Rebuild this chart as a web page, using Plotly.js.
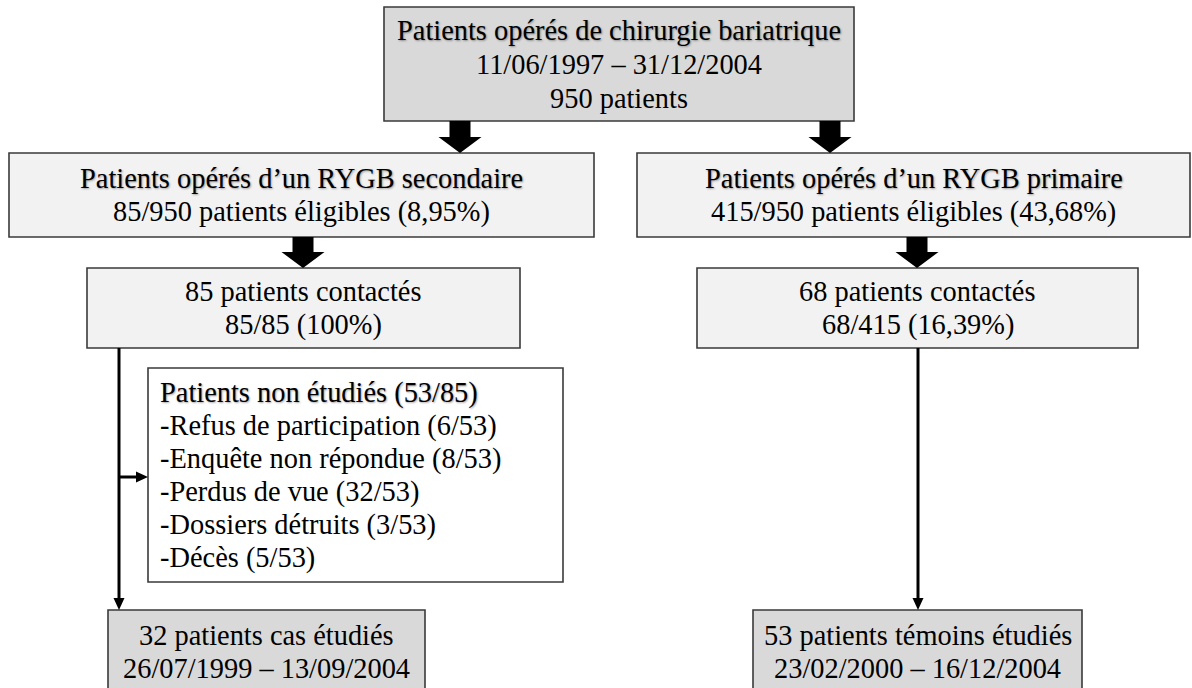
<!DOCTYPE html>
<html>
<head>
<meta charset="utf-8">
<script src="https://cdn.plot.ly/plotly-3.0.1.min.js"></script>
<style>html,body{margin:0;padding:0;background:#fff;}#chart{width:1192px;height:688px;}</style>
</head>
<body>
<div id="chart"></div>
<script>
// ---- data (texts of the flowchart) ----
const topLines = ["Patients opérés de chirurgie bariatrique", "11/06/1997 – 31/12/2004", "950 patients"];
const secondaryLines = ["Patients opérés d’un RYGB secondaire", "85/950 patients éligibles (8,95%)"];
const primaryLines = ["Patients opérés d’un RYGB primaire", "415/950 patients éligibles (43,68%)"];
const contactSecLines = ["85 patients contactés", "85/85 (100%)"];
const contactPriLines = ["68 patients contactés", "68/415 (16,39%)"];
const excludedLines = ["Patients non étudiés (53/85)", "-Refus de participation (6/53)", "-Enquête non répondue (8/53)", "-Perdus de vue (32/53)", "-Dossiers détruits (3/53)", "-Décès (5/53)"];
const casesLines = ["32 patients cas étudiés", "26/07/1999 – 13/09/2004"];
const controlsLines = ["53 patients témoins étudiés", "23/02/2000 – 16/12/2004"];

// ---- layout (positions / styles) ----
const W = 1192, H = 688;
const FONT = "Liberation Serif";
const FS = 28.4, LH = 33;
const DARK = "#d9d9d9", LIGHT = "#f2f2f2";
const boxes = [
  {lines: topLines,        x0: 384, x1: 854,  y0: 7,   y1: 121, fill: DARK,  shadowFirst: true, lh: 34},
  {lines: secondaryLines,  x0: 9,   x1: 594,  y0: 153, y1: 237, fill: LIGHT, shadowFirst: true},
  {lines: primaryLines,    x0: 637, x1: 1190, y0: 153, y1: 237, fill: LIGHT, shadowFirst: true},
  {lines: contactSecLines, x0: 87,  x1: 520,  y0: 268, y1: 348, fill: LIGHT},
  {lines: contactPriLines, x0: 697, x1: 1138, y0: 268, y1: 348, fill: LIGHT},
  {lines: excludedLines,   x0: 148, x1: 563,  y0: 368, y1: 582, fill: "#ffffff", left: 158, shadowFirst: true},
  {lines: casesLines,      x0: 108, x1: 425,  y0: 610, y1: 693, fill: DARK},
  {lines: controlsLines,   x0: 753, x1: 1082, y0: 610, y1: 693, fill: DARK}
];
const thickArrows = [
  {cx: 460, y0: 121, y1: 153},
  {cx: 830, y0: 121, y1: 153},
  {cx: 303, y0: 237, y1: 268},
  {cx: 917, y0: 237, y1: 268}
];
const thinArrows = [
  {x0: 119, y0: 348, x1: 119, y1: 610},
  {x0: 918, y0: 348, x1: 918, y1: 610},
  {x0: 118, y0: 477, x1: 148, y1: 477}
];

const shapes = [];
const annotations = [];

boxes.forEach(b => {
  shapes.push({type: "rect", xref: "x", yref: "y", x0: b.x0, x1: b.x1, y0: b.y0, y1: b.y1,
    fillcolor: b.fill, line: {color: "#3a3a3a", width: 1.6}, layer: "below"});
  const cy = (b.y0 + b.y1) / 2;
  const n = b.lines.length;
  const lh = b.lh || LH;
  b.lines.forEach((t, i) => {
    const font = {family: FONT, size: FS, color: "#000"};
    if (b.shadowFirst && i === 0) font.shadow = "1px 1px 2px rgba(0,0,0,0.35)";
    annotations.push({
      xref: "x", yref: "y",
      x: b.left !== undefined ? b.left : (b.x0 + b.x1) / 2,
      y: cy + (i - (n - 1) / 2) * lh,
      xanchor: b.left !== undefined ? "left" : "center",
      yanchor: "middle",
      text: t, showarrow: false, font: font
    });
  });
});

const SH = 10.5, HH = 21.5, HL = 16;
thickArrows.forEach(a => {
  const c = a.cx, y0 = a.y0, y1 = a.y1, yh = y1 - HL;
  shapes.push({type: "path", xref: "x", yref: "y",
    path: `M ${c - SH},${y0} L ${c + SH},${y0} L ${c + SH},${yh} L ${c + HH},${yh} L ${c},${y1} L ${c - HH},${yh} L ${c - SH},${yh} Z`,
    fillcolor: "#000", line: {color: "#000", width: 0}});
});

const TL = 12, TW = 5.5;
thinArrows.forEach(a => {
  const vertical = a.x0 === a.x1;
  if (vertical) {
    shapes.push({type: "line", xref: "x", yref: "y", x0: a.x0, x1: a.x1, y0: a.y0, y1: a.y1 - TL + 1,
      line: {color: "#000", width: 3}});
    shapes.push({type: "path", xref: "x", yref: "y",
      path: `M ${a.x1 - TW},${a.y1 - TL} L ${a.x1 + TW},${a.y1 - TL} L ${a.x1},${a.y1} Z`,
      fillcolor: "#000", line: {color: "#000", width: 0}});
  } else {
    shapes.push({type: "line", xref: "x", yref: "y", x0: a.x0, x1: a.x1 - TL + 1, y0: a.y0, y1: a.y1,
      line: {color: "#000", width: 3}});
    shapes.push({type: "path", xref: "x", yref: "y",
      path: `M ${a.x1 - TL},${a.y1 - TW} L ${a.x1 - TL},${a.y1 + TW} L ${a.x1},${a.y1} Z`,
      fillcolor: "#000", line: {color: "#000", width: 0}});
  }
});

const layout = {
  width: W, height: H,
  margin: {l: 0, r: 0, t: 0, b: 0, pad: 0},
  paper_bgcolor: "#fff", plot_bgcolor: "#fff",
  font: {family: FONT, size: FS, color: "#000"},
  xaxis: {range: [0, W], visible: false, fixedrange: true},
  yaxis: {range: [H, 0], visible: false, fixedrange: true},
  showlegend: false,
  shapes: shapes,
  annotations: annotations
};

Plotly.newPlot("chart", [], layout, {displayModeBar: false, staticPlot: true});
</script>
</body>
</html>
